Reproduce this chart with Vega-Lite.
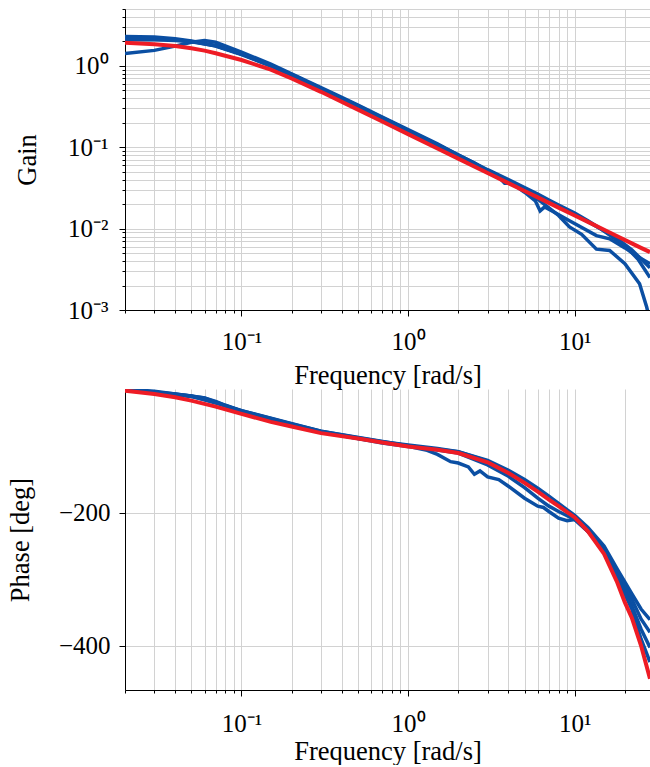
{
  "$schema": "https://vega.github.io/schema/vega-lite/v6.json",
  "padding": {"left": 7, "top": 8, "right": 0, "bottom": 0},
  "spacing": -6,
  "config": {
    "view": {"stroke": null},
    "font": "Liberation Serif",
    "axis": {
      "domainColor": "#000000",
      "domainWidth": 1,
      "tickColor": "#000000",
      "gridColor": "#d2d2d2",
      "gridWidth": 1,
      "labelFont": "Liberation Serif",
      "labelColor": "#000000",
      "titleFont": "Liberation Serif",
      "titleFontSize": 26.5,
      "titleFontWeight": "normal",
      "titleColor": "#000000",
      "labelOverlap": false,
      "labelFlush": false
    }
  },
  "datasets": {
    "gain": [
      {"s": "model", "f": 0.02, "v": 1.93},
      {"s": "model", "f": 0.03, "v": 1.85},
      {"s": "model", "f": 0.04, "v": 1.75},
      {"s": "model", "f": 0.05, "v": 1.65},
      {"s": "model", "f": 0.06, "v": 1.54},
      {"s": "model", "f": 0.07, "v": 1.43},
      {"s": "model", "f": 0.1, "v": 1.18},
      {"s": "model", "f": 0.15, "v": 0.9},
      {"s": "model", "f": 0.2, "v": 0.7},
      {"s": "model", "f": 0.3, "v": 0.48},
      {"s": "model", "f": 0.5, "v": 0.29},
      {"s": "model", "f": 0.7, "v": 0.207},
      {"s": "model", "f": 1, "v": 0.145},
      {"s": "model", "f": 1.5, "v": 0.0966},
      {"s": "model", "f": 2, "v": 0.0725},
      {"s": "model", "f": 3, "v": 0.0483},
      {"s": "model", "f": 4, "v": 0.0362},
      {"s": "model", "f": 5, "v": 0.029},
      {"s": "model", "f": 6, "v": 0.0242},
      {"s": "model", "f": 7, "v": 0.0207},
      {"s": "model", "f": 8, "v": 0.0181},
      {"s": "model", "f": 10, "v": 0.0145},
      {"s": "model", "f": 12, "v": 0.0121},
      {"s": "model", "f": 15, "v": 0.00967},
      {"s": "model", "f": 18, "v": 0.00806},
      {"s": "model", "f": 22, "v": 0.00659},
      {"s": "model", "f": 25, "v": 0.0058},
      {"s": "model", "f": 28.3, "v": 0.00515},

      {"s": "b1", "f": 0.02, "v": 2.3},
      {"s": "b1", "f": 0.03, "v": 2.27},
      {"s": "b1", "f": 0.04, "v": 2.15},
      {"s": "b1", "f": 0.05, "v": 2.02},
      {"s": "b1", "f": 0.07, "v": 1.78},
      {"s": "b1", "f": 0.1, "v": 1.4},
      {"s": "b1", "f": 0.15, "v": 1.02},
      {"s": "b1", "f": 0.2, "v": 0.78},
      {"s": "b1", "f": 0.3, "v": 0.53},
      {"s": "b1", "f": 0.4, "v": 0.4},
      {"s": "b1", "f": 0.5, "v": 0.325},
      {"s": "b1", "f": 0.7, "v": 0.23},
      {"s": "b1", "f": 1, "v": 0.162},
      {"s": "b1", "f": 1.5, "v": 0.108},
      {"s": "b1", "f": 2, "v": 0.081},
      {"s": "b1", "f": 2.5, "v": 0.064},
      {"s": "b1", "f": 3, "v": 0.053},
      {"s": "b1", "f": 4, "v": 0.04},
      {"s": "b1", "f": 5, "v": 0.032},
      {"s": "b1", "f": 6, "v": 0.0265},
      {"s": "b1", "f": 7, "v": 0.0225},
      {"s": "b1", "f": 8, "v": 0.0195},
      {"s": "b1", "f": 10, "v": 0.0155},
      {"s": "b1", "f": 12, "v": 0.0125},
      {"s": "b1", "f": 14.6, "v": 0.0097},
      {"s": "b1", "f": 18, "v": 0.0072},
      {"s": "b1", "f": 20, "v": 0.0062},
      {"s": "b1", "f": 24, "v": 0.0042},
      {"s": "b1", "f": 28.3, "v": 0.0025},

      {"s": "b2", "f": 0.02, "v": 1.42},
      {"s": "b2", "f": 0.03, "v": 1.55},
      {"s": "b2", "f": 0.04, "v": 1.75},
      {"s": "b2", "f": 0.05, "v": 1.95},
      {"s": "b2", "f": 0.06, "v": 2.05},
      {"s": "b2", "f": 0.07, "v": 1.95},
      {"s": "b2", "f": 0.1, "v": 1.48},
      {"s": "b2", "f": 0.15, "v": 1.05},
      {"s": "b2", "f": 0.2, "v": 0.8},
      {"s": "b2", "f": 0.3, "v": 0.54},
      {"s": "b2", "f": 0.4, "v": 0.41},
      {"s": "b2", "f": 0.5, "v": 0.33},
      {"s": "b2", "f": 0.7, "v": 0.235},
      {"s": "b2", "f": 1, "v": 0.165},
      {"s": "b2", "f": 1.5, "v": 0.11},
      {"s": "b2", "f": 2, "v": 0.08},
      {"s": "b2", "f": 2.5, "v": 0.064},
      {"s": "b2", "f": 3, "v": 0.051},
      {"s": "b2", "f": 3.5, "v": 0.043},
      {"s": "b2", "f": 3.8, "v": 0.036},
      {"s": "b2", "f": 4.2, "v": 0.036},
      {"s": "b2", "f": 5, "v": 0.028},
      {"s": "b2", "f": 5.8, "v": 0.022},
      {"s": "b2", "f": 6.2, "v": 0.0165},
      {"s": "b2", "f": 6.6, "v": 0.0185},
      {"s": "b2", "f": 7.5, "v": 0.016},
      {"s": "b2", "f": 9.3, "v": 0.0125},
      {"s": "b2", "f": 13.5, "v": 0.0082},
      {"s": "b2", "f": 16.2, "v": 0.0075},
      {"s": "b2", "f": 20, "v": 0.0058},
      {"s": "b2", "f": 24, "v": 0.0045},
      {"s": "b2", "f": 28.3, "v": 0.0037},

      {"s": "b3", "f": 0.02, "v": 2.2},
      {"s": "b3", "f": 0.03, "v": 2.2},
      {"s": "b3", "f": 0.04, "v": 2.1},
      {"s": "b3", "f": 0.05, "v": 2.0},
      {"s": "b3", "f": 0.07, "v": 1.75},
      {"s": "b3", "f": 0.1, "v": 1.38},
      {"s": "b3", "f": 0.15, "v": 1.0},
      {"s": "b3", "f": 0.2, "v": 0.77},
      {"s": "b3", "f": 0.3, "v": 0.52},
      {"s": "b3", "f": 0.5, "v": 0.32},
      {"s": "b3", "f": 0.7, "v": 0.23},
      {"s": "b3", "f": 1, "v": 0.16},
      {"s": "b3", "f": 1.5, "v": 0.107},
      {"s": "b3", "f": 2, "v": 0.079},
      {"s": "b3", "f": 3, "v": 0.051},
      {"s": "b3", "f": 4, "v": 0.038},
      {"s": "b3", "f": 5, "v": 0.029},
      {"s": "b3", "f": 6, "v": 0.023},
      {"s": "b3", "f": 7, "v": 0.018},
      {"s": "b3", "f": 8, "v": 0.0145},
      {"s": "b3", "f": 9.3, "v": 0.0105},
      {"s": "b3", "f": 11, "v": 0.0085},
      {"s": "b3", "f": 13.5, "v": 0.0056},
      {"s": "b3", "f": 16.2, "v": 0.0054},
      {"s": "b3", "f": 20, "v": 0.0037},
      {"s": "b3", "f": 24.5, "v": 0.0021},
      {"s": "b3", "f": 27, "v": 0.0011},
      {"s": "b3", "f": 28, "v": 0.0008},

      {"s": "b4", "f": 0.02, "v": 2.1},
      {"s": "b4", "f": 0.03, "v": 2.1},
      {"s": "b4", "f": 0.04, "v": 2.05},
      {"s": "b4", "f": 0.05, "v": 1.98},
      {"s": "b4", "f": 0.07, "v": 1.76},
      {"s": "b4", "f": 0.1, "v": 1.4},
      {"s": "b4", "f": 0.2, "v": 0.78},
      {"s": "b4", "f": 0.5, "v": 0.32},
      {"s": "b4", "f": 1, "v": 0.16},
      {"s": "b4", "f": 3, "v": 0.052},
      {"s": "b4", "f": 5, "v": 0.031},
      {"s": "b4", "f": 7, "v": 0.022},
      {"s": "b4", "f": 10, "v": 0.015},
      {"s": "b4", "f": 12, "v": 0.0122},
      {"s": "b4", "f": 15, "v": 0.0094},
      {"s": "b4", "f": 18, "v": 0.0075},
      {"s": "b4", "f": 22, "v": 0.0055},
      {"s": "b4", "f": 28.3, "v": 0.0033}
    ],
    "phase": [
      {"s": "model", "f": 0.02, "v": -16},
      {"s": "model", "f": 0.03, "v": -21},
      {"s": "model", "f": 0.04, "v": -26},
      {"s": "model", "f": 0.05, "v": -31},
      {"s": "model", "f": 0.07, "v": -40},
      {"s": "model", "f": 0.1, "v": -51},
      {"s": "model", "f": 0.15, "v": -63},
      {"s": "model", "f": 0.2, "v": -70},
      {"s": "model", "f": 0.3, "v": -80},
      {"s": "model", "f": 0.5, "v": -88},
      {"s": "model", "f": 0.7, "v": -94},
      {"s": "model", "f": 1, "v": -100},
      {"s": "model", "f": 1.5, "v": -105},
      {"s": "model", "f": 2, "v": -110},
      {"s": "model", "f": 3, "v": -124},
      {"s": "model", "f": 4, "v": -140},
      {"s": "model", "f": 5, "v": -155},
      {"s": "model", "f": 6, "v": -168},
      {"s": "model", "f": 7, "v": -180},
      {"s": "model", "f": 8, "v": -190},
      {"s": "model", "f": 10, "v": -207},
      {"s": "model", "f": 12, "v": -228},
      {"s": "model", "f": 15, "v": -262},
      {"s": "model", "f": 18, "v": -305},
      {"s": "model", "f": 20, "v": -335},
      {"s": "model", "f": 22, "v": -358},
      {"s": "model", "f": 25, "v": -400},
      {"s": "model", "f": 28.3, "v": -450},

      {"s": "b1", "f": 0.02, "v": -13.5},
      {"s": "b1", "f": 0.03, "v": -17},
      {"s": "b1", "f": 0.04, "v": -21},
      {"s": "b1", "f": 0.05, "v": -24},
      {"s": "b1", "f": 0.06, "v": -27},
      {"s": "b1", "f": 0.07, "v": -32},
      {"s": "b1", "f": 0.08, "v": -38},
      {"s": "b1", "f": 0.1, "v": -46},
      {"s": "b1", "f": 0.15, "v": -58},
      {"s": "b1", "f": 0.2, "v": -66},
      {"s": "b1", "f": 0.3, "v": -77},
      {"s": "b1", "f": 0.5, "v": -87},
      {"s": "b1", "f": 0.7, "v": -93},
      {"s": "b1", "f": 1, "v": -98},
      {"s": "b1", "f": 1.5, "v": -103},
      {"s": "b1", "f": 2, "v": -108},
      {"s": "b1", "f": 3, "v": -121},
      {"s": "b1", "f": 4, "v": -136},
      {"s": "b1", "f": 5, "v": -150},
      {"s": "b1", "f": 6, "v": -163},
      {"s": "b1", "f": 7, "v": -175},
      {"s": "b1", "f": 8, "v": -186},
      {"s": "b1", "f": 10, "v": -204},
      {"s": "b1", "f": 12, "v": -222},
      {"s": "b1", "f": 15, "v": -250},
      {"s": "b1", "f": 18, "v": -285},
      {"s": "b1", "f": 22, "v": -322},
      {"s": "b1", "f": 25, "v": -345},
      {"s": "b1", "f": 28.3, "v": -361},

      {"s": "b2", "f": 0.02, "v": -14},
      {"s": "b2", "f": 0.04, "v": -21},
      {"s": "b2", "f": 0.06, "v": -27},
      {"s": "b2", "f": 0.08, "v": -39},
      {"s": "b2", "f": 0.1, "v": -47},
      {"s": "b2", "f": 0.2, "v": -67},
      {"s": "b2", "f": 0.3, "v": -78},
      {"s": "b2", "f": 0.5, "v": -88},
      {"s": "b2", "f": 0.7, "v": -95},
      {"s": "b2", "f": 1, "v": -100},
      {"s": "b2", "f": 1.3, "v": -106},
      {"s": "b2", "f": 1.5, "v": -112},
      {"s": "b2", "f": 1.8, "v": -123},
      {"s": "b2", "f": 2, "v": -125},
      {"s": "b2", "f": 2.3, "v": -131},
      {"s": "b2", "f": 2.5, "v": -142},
      {"s": "b2", "f": 2.7, "v": -137},
      {"s": "b2", "f": 3, "v": -146},
      {"s": "b2", "f": 3.5, "v": -150},
      {"s": "b2", "f": 4, "v": -160},
      {"s": "b2", "f": 5, "v": -178},
      {"s": "b2", "f": 6, "v": -190},
      {"s": "b2", "f": 6.5, "v": -192},
      {"s": "b2", "f": 7, "v": -198},
      {"s": "b2", "f": 8, "v": -208},
      {"s": "b2", "f": 9, "v": -212},
      {"s": "b2", "f": 10, "v": -210},
      {"s": "b2", "f": 12, "v": -228},
      {"s": "b2", "f": 15, "v": -255},
      {"s": "b2", "f": 18, "v": -290},
      {"s": "b2", "f": 22, "v": -330},
      {"s": "b2", "f": 25, "v": -360},
      {"s": "b2", "f": 28.3, "v": -380},

      {"s": "b3", "f": 0.02, "v": -14},
      {"s": "b3", "f": 0.05, "v": -25},
      {"s": "b3", "f": 0.07, "v": -33},
      {"s": "b3", "f": 0.1, "v": -47},
      {"s": "b3", "f": 0.2, "v": -67},
      {"s": "b3", "f": 0.3, "v": -78},
      {"s": "b3", "f": 0.5, "v": -88},
      {"s": "b3", "f": 1, "v": -99},
      {"s": "b3", "f": 2, "v": -110},
      {"s": "b3", "f": 3, "v": -128},
      {"s": "b3", "f": 4, "v": -145},
      {"s": "b3", "f": 5, "v": -162},
      {"s": "b3", "f": 6, "v": -178},
      {"s": "b3", "f": 7, "v": -190},
      {"s": "b3", "f": 8, "v": -198},
      {"s": "b3", "f": 10, "v": -210},
      {"s": "b3", "f": 12, "v": -228},
      {"s": "b3", "f": 15, "v": -258},
      {"s": "b3", "f": 18, "v": -295},
      {"s": "b3", "f": 22, "v": -340},
      {"s": "b3", "f": 25, "v": -375},
      {"s": "b3", "f": 28.3, "v": -403},

      {"s": "b4", "f": 0.02, "v": -14},
      {"s": "b4", "f": 0.05, "v": -24},
      {"s": "b4", "f": 0.1, "v": -46},
      {"s": "b4", "f": 0.3, "v": -77},
      {"s": "b4", "f": 1, "v": -99},
      {"s": "b4", "f": 2, "v": -108},
      {"s": "b4", "f": 3, "v": -122},
      {"s": "b4", "f": 5, "v": -152},
      {"s": "b4", "f": 8, "v": -188},
      {"s": "b4", "f": 10, "v": -206},
      {"s": "b4", "f": 12, "v": -226},
      {"s": "b4", "f": 15, "v": -258},
      {"s": "b4", "f": 18, "v": -298},
      {"s": "b4", "f": 22, "v": -345},
      {"s": "b4", "f": 25, "v": -390},
      {"s": "b4", "f": 28.3, "v": -425}
    ]
  },
  "vconcat": [
    {
      "width": 525,
      "height": 301,
      "layer": [
        {
          "data": {"name": "gain"},
          "transform": [{"filter": "datum.s != 'model'"}],
          "mark": {"type": "line", "color": "#0b4fa3", "strokeWidth": 3.5, "clip": true},
          "encoding": {
            "x": {
              "field": "f", "type": "quantitative",
              "scale": {"type": "log", "domain": [0.02, 28.3], "nice": false},
              "axis": {
                "title": "Frequency [rad/s]",
                "values": [0.02,0.03,0.04,0.05,0.06,0.07,0.08,0.09,0.1,0.2,0.3,0.4,0.5,0.6,0.7,0.8,0.9,1,2,3,4,5,6,7,8,9,10,20],
                "labelExpr": "datum.value == 0.1 ? '10⁻¹' : datum.value == 1 ? '10⁰' : datum.value == 10 ? '10¹' : ''",
                "labelFontSize": {"condition": {"test": "indexof([0.1,1,10], datum.value) >= 0", "value": 25}, "value": 0},
                "tickSize": {"condition": {"test": "indexof([0.1,1,10], datum.value) >= 0", "value": 6}, "value": 3},
                "labelPadding": 13,
                "titlePadding": 8
              }
            },
            "y": {
              "field": "v", "type": "quantitative",
              "scale": {"type": "log", "domain": [0.001, 5], "nice": false},
              "axis": {
                "title": "Gain",
                "values": [0.001,0.002,0.003,0.004,0.005,0.006,0.007,0.008,0.009,0.01,0.02,0.03,0.04,0.05,0.06,0.07,0.08,0.09,0.1,0.2,0.3,0.4,0.5,0.6,0.7,0.8,0.9,1,2,3,4,5],
                "labelExpr": "datum.value == 0.001 ? '10⁻³' : datum.value == 0.01 ? '10⁻²' : datum.value == 0.1 ? '10⁻¹' : datum.value == 1 ? '10⁰' : ''",
                "labelFontSize": {"condition": {"test": "indexof([0.001,0.01,0.1,1], datum.value) >= 0", "value": 25}, "value": 0},
                "tickSize": {"condition": {"test": "indexof([0.001,0.01,0.1,1], datum.value) >= 0", "value": 6}, "value": 3},
                "labelPadding": 11,
                "titleX": -98,
                "titleBaseline": "middle"
              }
            },
            "detail": {"field": "s"}
          }
        },
        {
          "data": {"name": "gain"},
          "transform": [{"filter": "datum.s == 'model'"}],
          "mark": {"type": "line", "color": "#ee1c25", "strokeWidth": 4, "clip": true},
          "encoding": {
            "x": {"field": "f", "type": "quantitative"},
            "y": {"field": "v", "type": "quantitative"}
          }
        }
      ]
    },
    {
      "width": 525,
      "height": 301,
      "layer": [
        {
          "data": {"name": "phase"},
          "transform": [{"filter": "datum.s != 'model'"}],
          "mark": {"type": "line", "color": "#0b4fa3", "strokeWidth": 3.5, "clip": true},
          "encoding": {
            "x": {
              "field": "f", "type": "quantitative",
              "scale": {"type": "log", "domain": [0.02, 28.3], "nice": false},
              "axis": {
                "title": "Frequency [rad/s]",
                "values": [0.02,0.03,0.04,0.05,0.06,0.07,0.08,0.09,0.1,0.2,0.3,0.4,0.5,0.6,0.7,0.8,0.9,1,2,3,4,5,6,7,8,9,10,20],
                "labelExpr": "datum.value == 0.1 ? '10⁻¹' : datum.value == 1 ? '10⁰' : datum.value == 10 ? '10¹' : ''",
                "labelFontSize": {"condition": {"test": "indexof([0.1,1,10], datum.value) >= 0", "value": 25}, "value": 0},
                "tickSize": {"condition": {"test": "indexof([0.1,1,10], datum.value) >= 0", "value": 6}, "value": 3},
                "labelPadding": 15,
                "titlePadding": 2
              }
            },
            "y": {
              "field": "v", "type": "quantitative",
              "scale": {"domain": [-467, -13.5], "nice": false, "zero": false},
              "axis": {
                "title": "Phase [deg]",
                "values": [-400, -200],
                "labelExpr": "'−' + abs(datum.value)",
                "labelFontSize": 25,
                "tickSize": 6,
                "labelPadding": 9,
                "titleX": -105,
                "titleBaseline": "middle"
              }
            },
            "detail": {"field": "s"}
          }
        },
        {
          "data": {"name": "phase"},
          "transform": [{"filter": "datum.s == 'model'"}],
          "mark": {"type": "line", "color": "#ee1c25", "strokeWidth": 4, "clip": true},
          "encoding": {
            "x": {"field": "f", "type": "quantitative"},
            "y": {"field": "v", "type": "quantitative"}
          }
        }
      ]
    }
  ]
}
